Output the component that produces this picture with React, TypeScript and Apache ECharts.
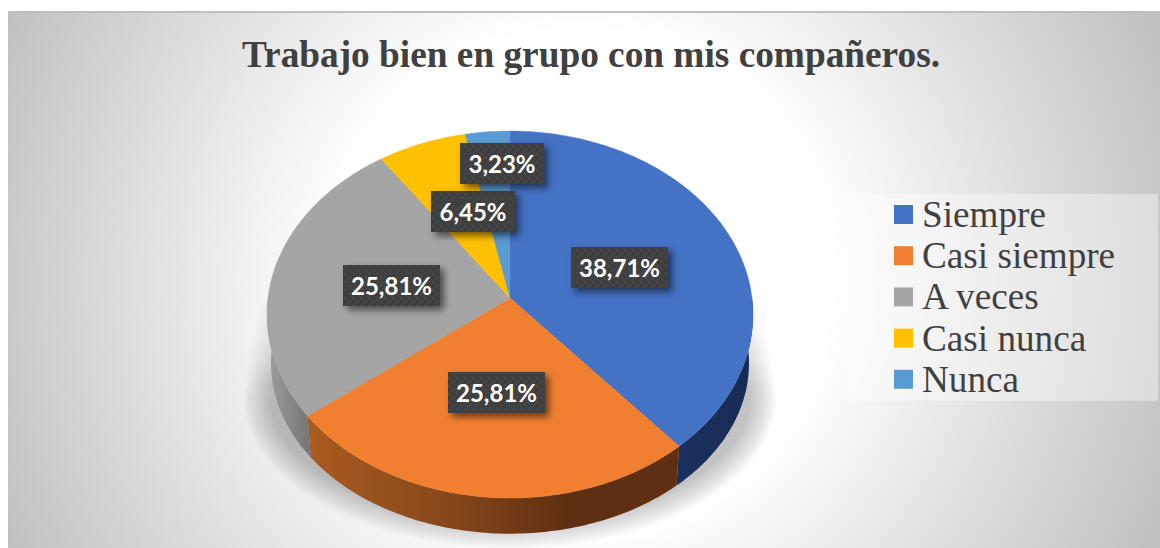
import React, { useEffect, useRef } from "react";
import * as echarts from "echarts";

const TITLE = "Trabajo bien en grupo con mis compañeros.";
const CATEGORIES = ["Siempre", "Casi siempre", "A veces", "Casi nunca", "Nunca"];
const VALUES = [38.71, 25.81, 25.81, 6.45, 3.23];

const COLORS = ["#4472c4", "#f07f30", "#a5a5a5", "#ffc000", "#5b9bd5"];
const WALL_STOPS: any[] = [
  [{ offset: 0, color: "#1a3160" }, { offset: 1, color: "#162b52" }],
  [{ offset: 0, color: "#aa5b20" }, { offset: 0.42, color: "#82451a" }, { offset: 0.7, color: "#5f2f11" }, { offset: 1, color: "#5f2f11" }],
  [{ offset: 0, color: "#9e9e9e" }, { offset: 1, color: "#747474" }],
  [{ offset: 0, color: "#997300" }, { offset: 1, color: "#997300" }],
  [{ offset: 0, color: "#2e75b6" }, { offset: 1, color: "#2e75b6" }],
];
// top-left corner of each data label's box
const LABEL_BOXES = [
  [571, 247],
  [448, 372],
  [343, 265],
  [431, 191],
  [460, 143],
];
const LABEL_WIDTHS = [97, 97, 97, 84, 84];
const LABEL_HEIGHT = 41;

// perspective disc model
const CX = 510;
const K = 0.09;
const TOP_FACE = { cy: 298, a: 242, b: 182 };
const BOTTOM_FACE = { cy: 348, a: 238, b: 169 };

function project(face: { cy: number; a: number; b: number }, deg: number) {
  const t = (deg * Math.PI) / 180;
  const u = Math.sin(t);
  const v = -Math.cos(t);
  const w = 1 - K * v;
  return [CX + (face.a * u) / w, face.cy + (face.b * v) / w];
}

function arcPoints(face: any, from: number, to: number) {
  const pts: number[][] = [];
  const n = Math.max(2, Math.ceil(Math.abs(to - from)));
  for (let i = 0; i <= n; i++) pts.push(project(face, from + ((to - from) * i) / n));
  return pts;
}

// soft drop shadow below the disc: nested translucent outlines
function shadowOutline(inset: number) {
  const pts: number[][] = [[CX + 250 - inset, 290]];
  for (let d = 0; d <= 180; d += 3) {
    const t = (d * Math.PI) / 180;
    pts.push([CX + (266 - inset) * Math.cos(t), 398 + (150 - inset) * Math.sin(t)]);
  }
  pts.push([CX - 250 + inset, 290]);
  return pts;
}

function shadowLayers() {
  const layers: any[] = [];
  for (let i = 0; i < 14; i++) {
    layers.push({
      type: "polygon",
      z: -1,
      shape: { points: shadowOutline(i * 2) },
      style: {
        fill: new echarts.graphic.LinearGradient(
          0,
          295,
          0,
          385,
          [
            { offset: 0, color: "rgba(0,0,0,0)" },
            { offset: 1, color: "rgba(0,0,0,0.02)" },
          ],
          true
        ),
      },
    });
  }
  return layers;
}

function makeDots() {
  const c = document.createElement("canvas");
  c.width = 8;
  c.height = 8;
  const g = c.getContext("2d")!;
  g.fillStyle = "#5c5c5c";
  g.fillRect(1, 1, 1, 1);
  g.fillRect(5, 5, 1, 1);
  return c;
}

export default function App() {
  const ref = useRef<HTMLDivElement>(null);
  useEffect(() => {
    const chart = echarts.init(ref.current!, null, { renderer: "svg" });
    const total = VALUES.reduce((a, b) => a + b, 0);
    const dots = makeDots();
    const starts: number[] = [];
    VALUES.reduce((acc, v, i) => {
      starts[i] = acc;
      return acc + v;
    }, 0);

    const series = CATEGORIES.map((name, idx) => ({
      type: "custom",
      name,
      coordinateSystem: "none",
      silent: true,
      itemStyle: { color: COLORS[idx] },
      data: [[VALUES[idx]]],
      renderItem: (_p: any, api: any) => {
        const value = api.value(0);
        const a0 = (starts[idx] / total) * 360;
        const a1 = a0 + (value / total) * 360;
        const children: any[] = [];
        const w0 = Math.max(a0, 90);
        const w1 = Math.min(a1, 270);
        if (w1 > w0) {
          const rimTop = arcPoints(TOP_FACE, w0, w1);
          const rimBottom = arcPoints(BOTTOM_FACE, w1, w0);
          const xs = rimTop.concat(rimBottom).map((p) => p[0]);
          const right = Math.max(...xs);
          const left = Math.min(...xs);
          children.push({
            type: "polygon",
            z2: 1,
            shape: { points: rimTop.concat(rimBottom) },
            style: {
              fill: new echarts.graphic.LinearGradient(left, 0, right, 0, WALL_STOPS[idx], true),
              stroke: null,
            },
          });
        }
        children.push({
          type: "polygon",
          z2: 2,
          shape: { points: [[CX, TOP_FACE.cy], ...arcPoints(TOP_FACE, a0, a1)] },
          style: { fill: COLORS[idx], stroke: COLORS[idx], lineWidth: 0.4 },
        });
        const [bx, by] = LABEL_BOXES[idx];
        const bw = LABEL_WIDTHS[idx];
        children.push({
          type: "rect",
          z2: 5,
          shape: { x: bx, y: by, width: bw, height: LABEL_HEIGHT },
          style: {
            fill: "#404040",
            shadowBlur: 7,
            shadowOffsetX: 4,
            shadowOffsetY: 4,
            shadowColor: "rgba(0,0,0,0.55)",
          },
        });
        children.push({
          type: "rect",
          z2: 6,
          shape: { x: bx, y: by, width: bw, height: LABEL_HEIGHT },
          style: { fill: { image: dots, repeat: "repeat" } },
        });
        children.push({
          type: "text",
          z2: 7,
          x: bx + bw / 2,
          y: by + LABEL_HEIGHT / 2,
          style: {
            text: value.toFixed(2).replace(".", ",") + "%",
            fill: "#ffffff",
            font: 'bold 24px Lato, "Open Sans", sans-serif',
            align: "center",
            verticalAlign: "middle",
          },
        });
        return { type: "group", children };
      },
    }));

    chart.setOption({
      animation: false,
      title: {
        text: TITLE,
        left: 242,
        top: 36,
        padding: 0,
        textStyle: {
          fontFamily: '"Liberation Serif", serif',
          fontWeight: "bold",
          fontSize: 37.3,
          color: "#404040",
        },
      },
      legend: {
        orient: "vertical",
        left: 847,
        top: 194,
        padding: [2, 43, 3, 47],
        backgroundColor: "rgba(255,255,255,0.38)",
        icon: "rect",
        itemWidth: 19,
        itemHeight: 19,
        itemGap: 4.2,
        selectedMode: false,
        data: CATEGORIES,
        textStyle: {
          fontFamily: '"Liberation Serif", serif',
          fontSize: 37.2,
          color: "#404040",
          padding: [0, 0, 0, 4],
        },
      },
      graphic: [
        {
          type: "rect",
          z: -10,
          shape: { x: 8, y: 12, width: 1152, height: 536 },
          style: {
            fill: new echarts.graphic.RadialGradient(
              580,
              280,
              640,
              [
                { offset: 0, color: "#ffffff" },
                { offset: 0.39, color: "#ffffff" },
                { offset: 1, color: "#bfbfbf" },
              ],
              true
            ),
          },
        },
        {
          type: "rect",
          z: -9,
          shape: { x: 8, y: 11, width: 1152, height: 2 },
          style: { fill: "#bfbfbf" },
        },
        ...shadowLayers(),
      ],
      series,
    });
    return () => chart.dispose();
  }, []);
  return (
    <div
      ref={ref}
      style={{ position: "absolute", left: 0, top: 0, width: 1160, height: 548 }}
    />
  );
}
